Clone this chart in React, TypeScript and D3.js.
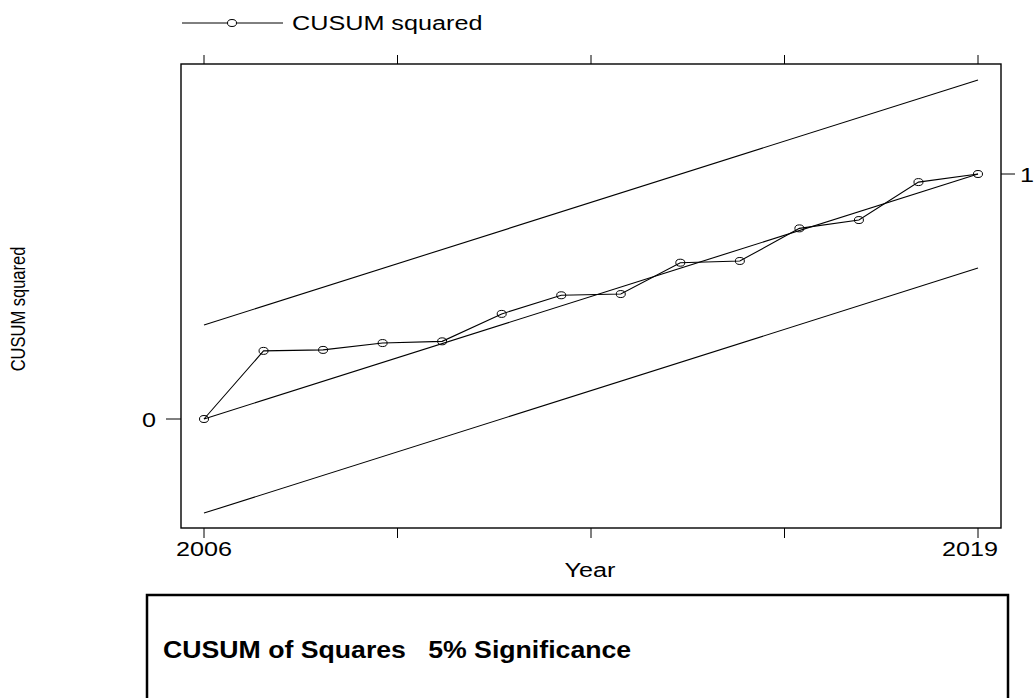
import React, { useEffect, useRef } from 'react';
import * as d3 from 'd3';

// CUSUM of squares values
const years = [2006, 2007, 2008, 2009, 2010, 2011, 2012, 2013, 2014, 2015, 2016, 2017, 2018, 2019];
const cusumSq = [0, 0.278, 0.282, 0.31, 0.317, 0.429, 0.505, 0.51, 0.638, 0.645, 0.778, 0.812, 0.967, 1];

// straight reference lines (start / end year)
const boundYears = [2006, 2019];
const expected = [0, 1];
const upperBound = [0.384, 1.384];
const lowerBound = [-0.384, 0.616];

const xTickValues = [2006, 2009.25, 2012.5, 2015.75, 2019];
const xTickLabels = ['2006', '', '', '', '2019'];
const yTickValues = [0, 1];

const W = 1034;
const H = 698;
const FONT = '"Liberation Sans", Arial, sans-serif';
const STRETCH = 1.2; // stata export is stretched horizontally

const App: React.FC = () => {
  const ref = useRef<SVGSVGElement>(null);

  useEffect(() => {
    if (!ref.current) return;
    const svg = d3.select(ref.current);
    svg.selectAll('*').remove();

    const frame = { left: 181, right: 1001, top: 64, bottom: 528 };
    const x = d3.scaleLinear().domain([2006, 2019]).range([204, 978]);
    const y = d3.scaleLinear().domain([0, 1]).range([419, 174]);

    // helper for horizontally stretched text
    const label = (
      tx: number,
      ty: number,
      str: string,
      size: number,
      anchor: string,
      weight = 'normal',
      sx = STRETCH,
    ) =>
      svg
        .append('text')
        .attr('transform', `translate(${tx},${ty}) scale(${sx},1)`)
        .attr('text-anchor', anchor)
        .attr('font-family', FONT)
        .attr('font-size', size)
        .attr('font-weight', weight)
        .attr('fill', '#000')
        .style('white-space', 'pre')
        .text(str);

    // legend
    const legY = 23;
    svg.append('line').attr('x1', 182).attr('x2', 283).attr('y1', legY).attr('y2', legY)
      .attr('stroke', '#000').attr('stroke-width', 1);
    svg.append('ellipse').attr('cx', 232).attr('cy', legY).attr('rx', 4.5).attr('ry', 3.5)
      .attr('fill', '#fff').attr('stroke', '#000').attr('stroke-width', 1);
    label(292, 30, 'CUSUM squared', 21, 'start');

    // plot frame
    svg.append('rect')
      .attr('x', frame.left).attr('y', frame.top)
      .attr('width', frame.right - frame.left).attr('height', frame.bottom - frame.top)
      .attr('fill', 'none').attr('stroke', '#000').attr('stroke-width', 1.4);

    // x ticks, top and bottom
    xTickValues.forEach((v, i) => {
      svg.append('line').attr('x1', x(v)).attr('x2', x(v)).attr('y1', frame.bottom).attr('y2', frame.bottom + 10)
        .attr('stroke', '#000').attr('stroke-width', 1);
      svg.append('line').attr('x1', x(v)).attr('x2', x(v)).attr('y1', frame.top - 9).attr('y2', frame.top)
        .attr('stroke', '#000').attr('stroke-width', 1);
      if (xTickLabels[i]) {
        const off = i === xTickLabels.length - 1 ? -8 : 0;
        label(x(v) + off, 556, xTickLabels[i], 21, 'middle');
      }
    });

    // y ticks: 0 on the left, 1 on the right
    svg.append('line').attr('x1', frame.left - 15).attr('x2', frame.left).attr('y1', y(yTickValues[0])).attr('y2', y(yTickValues[0]))
      .attr('stroke', '#000').attr('stroke-width', 1);
    label(156, y(yTickValues[0]) + 8, '0', 21, 'end');
    svg.append('line').attr('x1', frame.right).attr('x2', frame.right + 14).attr('y1', y(yTickValues[1])).attr('y2', y(yTickValues[1]))
      .attr('stroke', '#000').attr('stroke-width', 1);
    label(1020, y(yTickValues[1]) + 8, '1', 21, 'start');

    // axis titles
    label(590, 577, 'Year', 21, 'middle');
    svg.append('text')
      .attr('transform', `translate(25,309) rotate(-90) scale(1,1.2)`)
      .attr('text-anchor', 'middle')
      .attr('font-family', FONT)
      .attr('font-size', 16.5)
      .text('CUSUM squared');

    // bounds and expected line
    const straight = d3.line<number>().x((_, i) => x(boundYears[i])).y((d) => y(d));
    [upperBound, expected, lowerBound].forEach((arr) => {
      svg.append('path').attr('d', straight(arr)!).attr('fill', 'none').attr('stroke', '#000').attr('stroke-width', 1.1);
    });

    // cusum of squares series
    const series = d3.line<number>().x((_, i) => x(years[i])).y((d) => y(d));
    svg.append('path').attr('d', series(cusumSq)!).attr('fill', 'none').attr('stroke', '#000').attr('stroke-width', 1.1);
    svg.selectAll('.pt').data(cusumSq).enter().append('ellipse')
      .attr('class', 'pt')
      .attr('cx', (_, i) => x(years[i]))
      .attr('cy', (d) => y(d))
      .attr('rx', 4.5).attr('ry', 3.5)
      .attr('fill', 'none').attr('stroke', '#000').attr('stroke-width', 1);

    // caption box below
    svg.append('rect').attr('x', 147).attr('y', 595).attr('width', 861).attr('height', 140)
      .attr('fill', 'none').attr('stroke', '#000').attr('stroke-width', 2.5);
    label(163, 658, 'CUSUM of Squares   5% Significance', 23, 'start', 'bold', 1.16);
  }, []);

  return (
    <svg
      ref={ref}
      width={W}
      height={H}
      style={{ position: 'absolute', left: 0, top: 0, background: '#fff', display: 'block' }}
    />
  );
};

export default App;
